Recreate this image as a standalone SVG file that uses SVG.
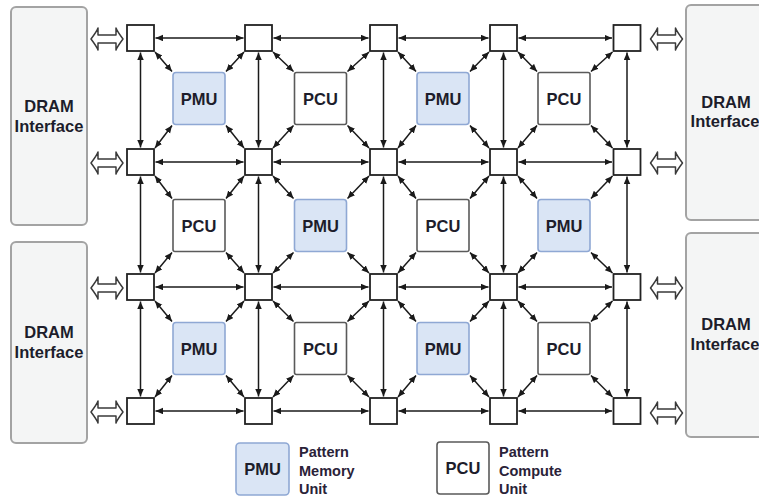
<svg xmlns="http://www.w3.org/2000/svg" xmlns:xlink="http://www.w3.org/1999/xlink" width="759" height="498" viewBox="0 0 759 498">
<style>
.dram{fill:#f4f5f5;stroke:#a3a3a3;stroke-width:2}
.dt{font-family:"Liberation Sans",Arial,sans-serif;font-weight:bold;font-size:16.5px;fill:#1d1d2b;text-anchor:middle}
.nt{font-family:"Liberation Sans",Arial,sans-serif;font-weight:bold;font-size:16.5px;fill:#1d1d2b;text-anchor:middle}
.lt{font-family:"Liberation Sans",Arial,sans-serif;font-weight:bold;font-size:14.5px;fill:#2a2238}
.pmu{fill:#dae5f5;stroke:#8fa8d4;stroke-width:1.6}
.pcu{fill:#ffffff;stroke:#5a5a5a;stroke-width:1.6}
.sw{fill:#ffffff;stroke:#222;stroke-width:1.8}
.c line{stroke:#1a1a1a;stroke-width:1.5;marker-start:url(#ah);marker-end:url(#ah)}
.ha{fill:#ffffff;stroke:#3a3a3a;stroke-width:1.5;stroke-linejoin:round}
</style>
<defs>
<marker id="ah" markerUnits="userSpaceOnUse" markerWidth="9" markerHeight="8" refX="7.5" refY="3.25" orient="auto-start-reverse">
<path d="M0,0 L7.5,3.25 L0,6.5 Z" fill="#1a1a1a"/>
</marker>
<path id="harrow" d="M-16,0 C-13,-4 -10,-8 -9,-11 L-9,-4 L9,-4 L9,-11 C10,-8 13,-4 16,0 C13,4 10,8 9,11 L9,4 L-9,4 L-9,11 C-10,8 -13,4 -16,0 Z"/>
</defs>

<g id="dram-left-top"><rect class="dram" x="11" y="7" width="76" height="218" rx="5"/><text class="dt" x="49" y="112">DRAM</text><text class="dt" x="49" y="132">Interface</text></g>
<g id="dram-left-bottom"><rect class="dram" x="11" y="242" width="76" height="201" rx="5"/><text class="dt" x="49" y="338">DRAM</text><text class="dt" x="49" y="358">Interface</text></g>
<g id="dram-right-top"><rect class="dram" x="686" y="5" width="85" height="215" rx="5"/><text class="dt" x="726" y="108">DRAM</text><text class="dt" x="725" y="127">Interface</text></g>
<g id="dram-right-bottom"><rect class="dram" x="686" y="233" width="85" height="204" rx="5"/><text class="dt" x="726" y="330">DRAM</text><text class="dt" x="725" y="350">Interface</text></g>

<g id="connectors" class="c">
<line x1="155.5" y1="38" x2="243.5" y2="38"/><line x1="273.5" y1="38" x2="368.5" y2="38"/><line x1="398.5" y1="38" x2="488.5" y2="38"/><line x1="518.5" y1="38" x2="612" y2="38"/>
<line x1="155.5" y1="162" x2="243.5" y2="162"/><line x1="273.5" y1="162" x2="368.5" y2="162"/><line x1="398.5" y1="162" x2="488.5" y2="162"/><line x1="518.5" y1="162" x2="612" y2="162"/>
<line x1="155.5" y1="287" x2="243.5" y2="287"/><line x1="273.5" y1="287" x2="368.5" y2="287"/><line x1="398.5" y1="287" x2="488.5" y2="287"/><line x1="518.5" y1="287" x2="612" y2="287"/>
<line x1="155.5" y1="411" x2="243.5" y2="411"/><line x1="273.5" y1="411" x2="368.5" y2="411"/><line x1="398.5" y1="411" x2="488.5" y2="411"/><line x1="518.5" y1="411" x2="612" y2="411"/>
<line x1="140.5" y1="52.5" x2="140.5" y2="147.5"/><line x1="140.5" y1="176.5" x2="140.5" y2="272.5"/><line x1="140.5" y1="301.5" x2="140.5" y2="396.5"/>
<line x1="258.5" y1="52.5" x2="258.5" y2="147.5"/><line x1="258.5" y1="176.5" x2="258.5" y2="272.5"/><line x1="258.5" y1="301.5" x2="258.5" y2="396.5"/>
<line x1="383.5" y1="52.5" x2="383.5" y2="147.5"/><line x1="383.5" y1="176.5" x2="383.5" y2="272.5"/><line x1="383.5" y1="301.5" x2="383.5" y2="396.5"/>
<line x1="503.5" y1="52.5" x2="503.5" y2="147.5"/><line x1="503.5" y1="176.5" x2="503.5" y2="272.5"/><line x1="503.5" y1="301.5" x2="503.5" y2="396.5"/>
<line x1="627" y1="52.5" x2="627" y2="147.5"/><line x1="627" y1="176.5" x2="627" y2="272.5"/><line x1="627" y1="301.5" x2="627" y2="396.5"/>
<line x1="155" y1="52" x2="172" y2="71.5"/><line x1="244" y1="52" x2="226" y2="71.5"/><line x1="155" y1="148" x2="172" y2="125.5"/><line x1="244" y1="148" x2="226" y2="125.5"/>
<line x1="273" y1="52" x2="293.5" y2="71.5"/><line x1="369" y1="52" x2="347.5" y2="71.5"/><line x1="273" y1="148" x2="293.5" y2="125.5"/><line x1="369" y1="148" x2="347.5" y2="125.5"/>
<line x1="398" y1="52" x2="416" y2="71.5"/><line x1="489" y1="52" x2="470" y2="71.5"/><line x1="398" y1="148" x2="416" y2="125.5"/><line x1="489" y1="148" x2="470" y2="125.5"/>
<line x1="518" y1="52" x2="537" y2="71.5"/><line x1="612.5" y1="52" x2="591" y2="71.5"/><line x1="518" y1="148" x2="537" y2="125.5"/><line x1="612.5" y1="148" x2="591" y2="125.5"/>
<line x1="155" y1="176" x2="172" y2="198.5"/><line x1="244" y1="176" x2="226" y2="198.5"/><line x1="155" y1="273" x2="172" y2="252.5"/><line x1="244" y1="273" x2="226" y2="252.5"/>
<line x1="273" y1="176" x2="293.5" y2="198.5"/><line x1="369" y1="176" x2="347.5" y2="198.5"/><line x1="273" y1="273" x2="293.5" y2="252.5"/><line x1="369" y1="273" x2="347.5" y2="252.5"/>
<line x1="398" y1="176" x2="416" y2="198.5"/><line x1="489" y1="176" x2="470" y2="198.5"/><line x1="398" y1="273" x2="416" y2="252.5"/><line x1="489" y1="273" x2="470" y2="252.5"/>
<line x1="518" y1="176" x2="537" y2="198.5"/><line x1="612.5" y1="176" x2="591" y2="198.5"/><line x1="518" y1="273" x2="537" y2="252.5"/><line x1="612.5" y1="273" x2="591" y2="252.5"/>
<line x1="155" y1="301" x2="172" y2="321.5"/><line x1="244" y1="301" x2="226" y2="321.5"/><line x1="155" y1="397" x2="172" y2="375.5"/><line x1="244" y1="397" x2="226" y2="375.5"/>
<line x1="273" y1="301" x2="293.5" y2="321.5"/><line x1="369" y1="301" x2="347.5" y2="321.5"/><line x1="273" y1="397" x2="293.5" y2="375.5"/><line x1="369" y1="397" x2="347.5" y2="375.5"/>
<line x1="398" y1="301" x2="416" y2="321.5"/><line x1="489" y1="301" x2="470" y2="321.5"/><line x1="398" y1="397" x2="416" y2="375.5"/><line x1="489" y1="397" x2="470" y2="375.5"/>
<line x1="518" y1="301" x2="537" y2="321.5"/><line x1="612.5" y1="301" x2="591" y2="321.5"/><line x1="518" y1="397" x2="537" y2="375.5"/><line x1="612.5" y1="397" x2="591" y2="375.5"/>
<use href="#harrow" class="ha" transform="translate(107,39)"/>
<use href="#harrow" class="ha" transform="translate(107,163)"/>
<use href="#harrow" class="ha" transform="translate(107,288)"/>
<use href="#harrow" class="ha" transform="translate(107,412)"/>
<use href="#harrow" class="ha" transform="translate(666.5,39)"/>
<use href="#harrow" class="ha" transform="translate(666.5,163)"/>
<use href="#harrow" class="ha" transform="translate(666.5,288)"/>
<use href="#harrow" class="ha" transform="translate(666.5,413)"/>
</g>

<g id="switches">
<g id="s00"><rect class="sw" x="127" y="25" width="27" height="26"/></g>
<g id="s10"><rect class="sw" x="245" y="25" width="27" height="26"/></g>
<g id="s20"><rect class="sw" x="370" y="25" width="27" height="26"/></g>
<g id="s30"><rect class="sw" x="490" y="25" width="27" height="26"/></g>
<g id="s40"><rect class="sw" x="613.5" y="25" width="27" height="26"/></g>
<g id="s01"><rect class="sw" x="127" y="149" width="27" height="26"/></g>
<g id="s11"><rect class="sw" x="245" y="149" width="27" height="26"/></g>
<g id="s21"><rect class="sw" x="370" y="149" width="27" height="26"/></g>
<g id="s31"><rect class="sw" x="490" y="149" width="27" height="26"/></g>
<g id="s41"><rect class="sw" x="613.5" y="149" width="27" height="26"/></g>
<g id="s02"><rect class="sw" x="127" y="274" width="27" height="26"/></g>
<g id="s12"><rect class="sw" x="245" y="274" width="27" height="26"/></g>
<g id="s22"><rect class="sw" x="370" y="274" width="27" height="26"/></g>
<g id="s32"><rect class="sw" x="490" y="274" width="27" height="26"/></g>
<g id="s42"><rect class="sw" x="613.5" y="274" width="27" height="26"/></g>
<g id="s03"><rect class="sw" x="127" y="398" width="27" height="26"/></g>
<g id="s13"><rect class="sw" x="245" y="398" width="27" height="26"/></g>
<g id="s23"><rect class="sw" x="370" y="398" width="27" height="26"/></g>
<g id="s33"><rect class="sw" x="490" y="398" width="27" height="26"/></g>
<g id="s43"><rect class="sw" x="613.5" y="398" width="27" height="26"/></g>
</g>

<g id="n00"><rect class="pmu" x="173" y="72.5" width="52" height="52" rx="3"/><text class="nt" x="199" y="104.5">PMU</text></g>
<g id="n10"><rect class="pcu" x="294.5" y="72.5" width="52" height="52" rx="2"/><text class="nt" x="320.5" y="104.5">PCU</text></g>
<g id="n20"><rect class="pmu" x="417" y="72.5" width="52" height="52" rx="3"/><text class="nt" x="443" y="104.5">PMU</text></g>
<g id="n30"><rect class="pcu" x="538" y="72.5" width="52" height="52" rx="2"/><text class="nt" x="564" y="104.5">PCU</text></g>
<g id="n01"><rect class="pcu" x="173" y="199.5" width="52" height="52" rx="2"/><text class="nt" x="199" y="231.5">PCU</text></g>
<g id="n11"><rect class="pmu" x="294.5" y="199.5" width="52" height="52" rx="3"/><text class="nt" x="320.5" y="231.5">PMU</text></g>
<g id="n21"><rect class="pcu" x="417" y="199.5" width="52" height="52" rx="2"/><text class="nt" x="443" y="231.5">PCU</text></g>
<g id="n31"><rect class="pmu" x="538" y="199.5" width="52" height="52" rx="3"/><text class="nt" x="564" y="231.5">PMU</text></g>
<g id="n02"><rect class="pmu" x="173" y="322.5" width="52" height="52" rx="3"/><text class="nt" x="199" y="354.5">PMU</text></g>
<g id="n12"><rect class="pcu" x="294.5" y="322.5" width="52" height="52" rx="2"/><text class="nt" x="320.5" y="354.5">PCU</text></g>
<g id="n22"><rect class="pmu" x="417" y="322.5" width="52" height="52" rx="3"/><text class="nt" x="443" y="354.5">PMU</text></g>
<g id="n32"><rect class="pcu" x="538" y="322.5" width="52" height="52" rx="2"/><text class="nt" x="564" y="354.5">PCU</text></g>

<g id="legend-pmu"><rect class="pmu" x="236" y="443" width="53" height="52" rx="4"/><text class="nt" x="262.5" y="475">PMU</text><text class="lt" x="299" y="457">Pattern</text><text class="lt" x="299" y="476">Memory</text><text class="lt" x="299" y="494">Unit</text></g>
<g id="legend-pcu"><rect class="pcu" x="437" y="442" width="52" height="52" rx="3"/><text class="nt" x="463" y="474">PCU</text><text class="lt" x="499" y="457">Pattern</text><text class="lt" x="499" y="476">Compute</text><text class="lt" x="499" y="494">Unit</text></g>
</svg>
